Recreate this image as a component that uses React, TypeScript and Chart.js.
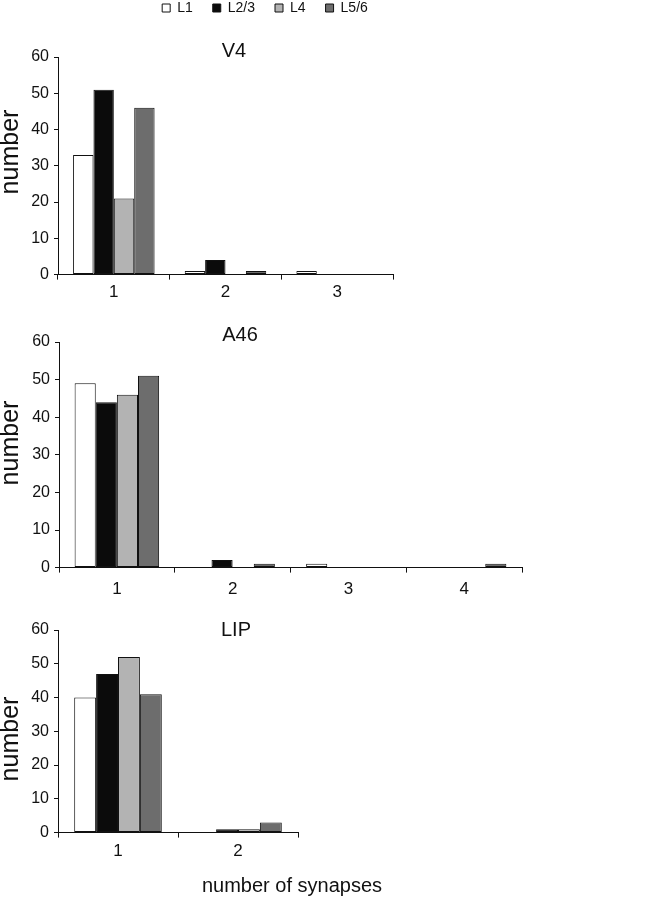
import React, { useEffect, useRef } from 'react';
import { Chart, registerables } from 'chart.js';

Chart.register(...registerables);

// ---------- data ----------
const SERIES_LABELS = ['L1', 'L2/3', 'L4', 'L5/6'];

const V4_CATEGORIES = ['1', '2', '3'];
const V4_L1 = [33, 1, 1];
const V4_L23 = [51, 4, 0];
const V4_L4 = [21, 0, 0];
const V4_L56 = [46, 1, 0];

const A46_CATEGORIES = ['1', '2', '3', '4'];
const A46_L1 = [49, 0, 1, 0];
const A46_L23 = [44, 2, 0, 0];
const A46_L4 = [46, 0, 0, 0];
const A46_L56 = [51, 1, 0, 1];

const LIP_CATEGORIES = ['1', '2'];
const LIP_L1 = [40, 0];
const LIP_L23 = [47, 1];
const LIP_L4 = [52, 1];
const LIP_L56 = [41, 3];

const Y_MIN = 0;
const Y_MAX = 60;
const Y_STEP = 10;

const Y_TITLE = 'number';
const X_TITLE = 'number of synapses';

// ---------- styles ----------
const FONT = 'Liberation Sans, Arial, sans-serif';
const INK = '#111111';
const FILLS = ['#ffffff', '#0b0b0b', '#b3b3b3', '#6d6d6d'];

type TextItem = { text: string; x: number; y: number; font: string; rotate?: number };

const freeTextPlugin = {
  id: 'freeText',
  afterDraw(chart: any, _args: any, opts: any) {
    const items: TextItem[] = (opts && opts.items) || [];
    const ctx = chart.ctx;
    for (const it of items) {
      ctx.save();
      ctx.font = it.font;
      ctx.fillStyle = INK;
      ctx.textAlign = 'center';
      ctx.textBaseline = 'middle';
      ctx.translate(it.x, it.y);
      if (it.rotate) ctx.rotate(it.rotate);
      ctx.fillText(it.text, 0, 0);
      ctx.restore();
    }
  },
};

function makeDatasets(series: number[][]) {
  return series.map((data, i) => ({
    label: SERIES_LABELS[i],
    data,
    backgroundColor: FILLS[i],
    borderColor: INK,
    borderWidth: 1,
    borderSkipped: false,
    categoryPercentage: 0.73,
    barPercentage: 1,
  }));
}

type PanelProps = {
  top: number;
  height: number;
  categories: string[];
  series: number[][];
  padding: { left: number; right: number; top: number; bottom: number };
  axisWidth: number;
  xTickPadding: number;
  texts: TextItem[];
};

function Panel(p: PanelProps) {
  const ref = useRef<HTMLCanvasElement | null>(null);
  useEffect(() => {
    if (!ref.current) return;
    const chart = new Chart(ref.current, {
      type: 'bar',
      data: { labels: p.categories, datasets: makeDatasets(p.series) as any },
      plugins: [freeTextPlugin as any],
      options: {
        responsive: false,
        animation: false,
        layout: { padding: p.padding },
        plugins: {
          legend: { display: false },
          tooltip: { enabled: false },
          title: { display: false },
          freeText: { items: p.texts },
        } as any,
        scales: {
          x: {
            grid: {
              display: true,
              drawOnChartArea: false,
              drawTicks: true,
              tickLength: 5,
              color: INK,
              offset: true,
            },
            border: { display: true, color: INK, width: 1 },
            ticks: {
              color: INK,
              font: { family: FONT, size: 17 },
              padding: p.xTickPadding,
              maxRotation: 0,
            },
          },
          y: {
            min: Y_MIN,
            max: Y_MAX,
            ticks: {
              stepSize: Y_STEP,
              color: INK,
              font: { family: FONT, size: 16 },
              padding: 5,
            },
            grid: { drawOnChartArea: false, tickLength: 4, color: INK },
            border: { display: true, color: INK, width: 1 },
            title: { display: false },
            afterFit: (s: any) => {
              s.width = p.axisWidth;
            },
          },
        },
      } as any,
    });
    return () => chart.destroy();
  }, []);
  return (
    <canvas
      ref={ref}
      width={645}
      height={p.height}
      style={{ position: 'absolute', left: 0, top: p.top }}
    />
  );
}

function LegendStrip() {
  const ref = useRef<HTMLCanvasElement | null>(null);
  useEffect(() => {
    if (!ref.current) return;
    const chart = new Chart(ref.current, {
      type: 'bar',
      data: {
        labels: [''],
        datasets: makeDatasets([[], [], [], []]) as any,
      },
      options: {
        responsive: false,
        animation: false,
        scales: { x: { display: false }, y: { display: false } },
        plugins: {
          tooltip: { enabled: false },
          legend: {
            display: true,
            position: 'top',
            align: 'center',
            labels: {
              boxWidth: 8,
              boxHeight: 8,
              padding: 20,
              color: INK,
              font: { family: FONT, size: 14 },
            },
          },
        },
      } as any,
    });
    return () => chart.destroy();
  }, []);
  return (
    <canvas
      ref={ref}
      width={530}
      height={120}
      style={{ position: 'absolute', left: 0, top: -19 }}
    />
  );
}

export default function App() {
  useEffect(() => {
    document.body.style.margin = '0';
  }, []);
  const titleFont = `20px ${FONT}`;
  const yTitleFont = `25px ${FONT}`;
  const up = -Math.PI / 2;
  return (
    <div style={{ position: 'relative', width: 645, height: 900, overflow: 'hidden', background: '#fff' }}>
      <LegendStrip />
      <Panel
        top={20}
        height={288}
        categories={V4_CATEGORIES}
        series={[V4_L1, V4_L23, V4_L4, V4_L56]}
        padding={{ left: 0, right: 252, top: 37, bottom: 2 }}
        axisWidth={58}
        xTickPadding={3}
        texts={[
          { text: 'V4', x: 234, y: 31, font: titleFont },
          { text: Y_TITLE, x: 11, y: 132, font: yTitleFont, rotate: up },
        ]}
      />
      <Panel
        top={305}
        height={307}
        categories={A46_CATEGORIES}
        series={[A46_L1, A46_L23, A46_L4, A46_L56]}
        padding={{ left: 0, right: 123, top: 37, bottom: 5 }}
        axisWidth={59}
        xTickPadding={7}
        texts={[
          { text: 'A46', x: 240, y: 30, font: titleFont },
          { text: Y_TITLE, x: 11, y: 138, font: yTitleFont, rotate: up },
        ]}
      />
      <Panel
        top={605}
        height={295}
        categories={LIP_CATEGORIES}
        series={[LIP_L1, LIP_L23, LIP_L4, LIP_L56]}
        padding={{ left: 0, right: 347, top: 25, bottom: 34 }}
        axisWidth={58}
        xTickPadding={4}
        texts={[
          { text: 'LIP', x: 236, y: 25, font: titleFont },
          { text: Y_TITLE, x: 11, y: 134, font: yTitleFont, rotate: up },
          { text: X_TITLE, x: 292, y: 281, font: `20px ${FONT}` },
        ]}
      />
    </div>
  );
}
